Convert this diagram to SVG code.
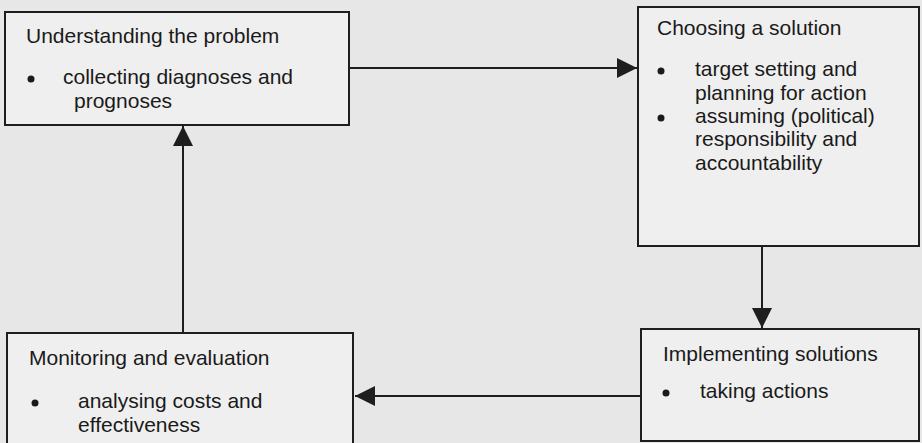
<svg xmlns="http://www.w3.org/2000/svg" width="922" height="443" viewBox="0 0 922 443">
<style>
.box{fill:#efefef;stroke:#1e1e1e;stroke-width:2}
.t{font-family:"Liberation Sans",Arial,sans-serif;font-size:21px;fill:#1a1a1a}
.ln{stroke:#1e1e1e;stroke-width:2;fill:none}
.b{fill:#1a1a1a}
</style>
<defs>
<marker id="ah" viewBox="0 0 20 20" refX="20" refY="10" markerWidth="20" markerHeight="20" markerUnits="userSpaceOnUse" orient="auto">
<path d="M0,0 L20,10 L0,20 Z" fill="#1e1e1e"/>
</marker>
</defs>
<rect width="922" height="443" fill="#e7e7e7"/>
<g id="connectors">
<line class="ln" x1="350" y1="68" x2="637" y2="68" marker-end="url(#ah)"/>
<line class="ln" x1="762" y1="246" x2="762" y2="328" marker-end="url(#ah)"/>
<line class="ln" x1="641" y1="396" x2="355" y2="396" marker-end="url(#ah)"/>
<line class="ln" x1="183" y1="333" x2="183" y2="126" marker-end="url(#ah)"/>
</g>
<g id="understanding">
<rect class="box" x="5" y="12" width="344" height="113"/>
<text class="t" x="26" y="43">Understanding the problem</text>
<circle class="b" cx="31" cy="79" r="3.5"/>
<text class="t" x="63" y="84">collecting diagnoses and</text>
<text class="t" x="74" y="108">prognoses</text>
</g>
<g id="choosing">
<rect class="box" x="638" y="7" width="281" height="239"/>
<text class="t" x="657" y="35">Choosing a solution</text>
<circle class="b" cx="661" cy="71" r="3.5"/>
<text class="t" x="695" y="76">target setting and</text>
<text class="t" x="695" y="100">planning for action</text>
<circle class="b" cx="661" cy="118" r="3.5"/>
<text class="t" x="695" y="123">assuming (political)</text>
<text class="t" x="695" y="146">responsibility and</text>
<text class="t" x="695" y="170">accountability</text>
</g>
<g id="implementing">
<rect class="box" x="641" y="329" width="278" height="112"/>
<text class="t" x="663" y="361">Implementing solutions</text>
<circle class="b" cx="666" cy="393" r="3.5"/>
<text class="t" x="700" y="398">taking actions</text>
</g>
<g id="monitoring">
<rect class="box" x="7" y="333" width="346" height="115"/>
<text class="t" x="29" y="365">Monitoring and evaluation</text>
<circle class="b" cx="35" cy="403" r="3.5"/>
<text class="t" x="78" y="408">analysing costs and</text>
<text class="t" x="78" y="432">effectiveness</text>
</g>
</svg>
